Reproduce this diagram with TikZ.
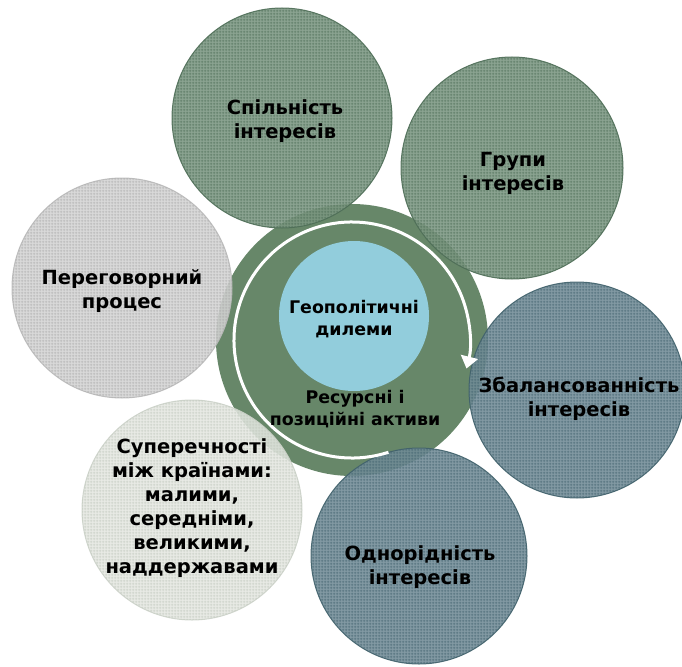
\documentclass[tikz,border=0pt]{standalone}
\usepackage{fontspec}
\setmainfont{DejaVu Sans}
\usetikzlibrary{arrows.meta,patterns.meta}
\definecolor{ringgreen}{HTML}{678769}
\definecolor{centerblue}{HTML}{92CDDC}
\definecolor{greenbase}{HTML}{7C9782}
\definecolor{greenline}{HTML}{4E6E57}
\definecolor{greenedge}{HTML}{4E6E57}
\definecolor{graybase}{HTML}{D4D4D4}
\definecolor{grayline}{HTML}{ABABAB}
\definecolor{grayedge}{HTML}{BABABA}
\definecolor{palebase}{HTML}{E5E8E2}
\definecolor{paleline}{HTML}{C0C8BD}
\definecolor{paleedge}{HTML}{CDD3CA}
\definecolor{slatebase}{HTML}{718C97}
\definecolor{slateline}{HTML}{42636F}
\definecolor{slateedge}{HTML}{40616B}
\tikzdeclarepattern{
  name=finegrid,
  type=uncolored,
  bounding box={(0pt,0pt) and (3pt,3pt)},
  tile size={(3pt,3pt)},
  code={
    \pgfsetlinewidth{0.8pt}
    \pgfpathmoveto{\pgfpoint{0pt}{1.5pt}}\pgfpathlineto{\pgfpoint{3pt}{1.5pt}}
    \pgfpathmoveto{\pgfpoint{1.5pt}{0pt}}\pgfpathlineto{\pgfpoint{1.5pt}{3pt}}
    \pgfusepath{stroke}
  }
}
\tikzset{
  bubble/.style={circle, inner sep=0pt, line width=1pt, fill opacity=0.88, draw opacity=0.9},
  gbubble/.style={bubble, fill=greenbase, draw=greenedge},
  graybubble/.style={bubble, fill=graybase, draw=grayedge},
  palebubble/.style={bubble, fill=palebase, draw=paleedge},
  sbubble/.style={bubble, fill=slatebase, draw=slateedge},
  gpat/.style={pattern={finegrid}, pattern color=greenline, fill opacity=0.8},
  graypat/.style={pattern={finegrid}, pattern color=grayline, fill opacity=0.8},
  palepat/.style={pattern={finegrid}, pattern color=paleline, fill opacity=0.8},
  spat/.style={pattern={finegrid}, pattern color=slateline, fill opacity=0.8},
  lbl/.style={align=center, text=black, font=\bfseries\fontsize{19.5}{24}\selectfont, inner sep=0pt},
  clbl/.style={align=center, text=black, font=\bfseries\fontsize{17.4}{22}\selectfont, inner sep=0pt}
}
\begin{document}
\begin{tikzpicture}[x=1pt,y=-1pt]
\useasboundingbox (0,0) rectangle (682,666);
\fill[white] (0,0) rectangle (682,666);
% central ring
\node[circle, fill=ringgreen, minimum size=272pt, inner sep=0pt] (ring) at (352,340) {};
\node[circle, fill=centerblue, minimum size=150pt, inner sep=0pt] (core) at (354,316) {};
% outer circles
\node[gbubble, minimum size=220pt] (common) at (282,118) {};
\fill[gpat] (common.center) circle[radius=110];
\node[gbubble, minimum size=222pt] (groups) at (512,168) {};
\fill[gpat] (groups.center) circle[radius=111];
\node[graybubble, minimum size=220pt] (nego) at (122,288) {};
\fill[graypat] (nego.center) circle[radius=110];
\node[sbubble, minimum size=216pt] (balance) at (577,390) {};
\fill[spat] (balance.center) circle[radius=108];
\node[palebubble, minimum size=220pt] (contra) at (192,510) {};
\fill[palepat] (contra.center) circle[radius=110];
\node[sbubble, minimum size=216pt] (homog) at (419,556) {};
\fill[spat] (homog.center) circle[radius=108];
% white arrow
\draw[white, line width=3pt, -{Triangle[width=17pt,length=12pt]}]
  ([shift={(72:118)}]ring.center) arc[start angle=72, end angle=374, radius=118];
% labels
\node[clbl] (coretxt) at (354,319) {Геополітичні\\дилеми};
\node[clbl] (assets) at (355,409) {Ресурсні і\\позиційні активи};
\node[lbl] (t1) at (285,121) {Спільність\\інтересів};
\node[lbl] (t2) at (513,173) {Групи\\інтересів};
\node[lbl] (t3) at (122,291) {Переговорний\\процес};
\node[lbl] (t4) at (579,399) {Збалансованність\\інтересів};
\node[lbl] (t5) at (192,508) {Суперечності\\між країнами:\\малими,\\середніми,\\великими,\\наддержавами};
\node[lbl] (t6) at (420,567) {Однорідність\\інтересів};
\end{tikzpicture}
\end{document}
